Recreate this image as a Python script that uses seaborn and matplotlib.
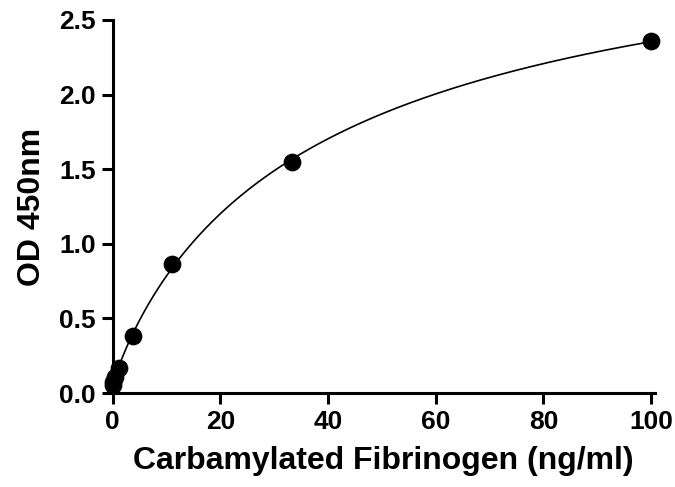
import numpy as np
import pandas as pd
import matplotlib
matplotlib.use("Agg")
import matplotlib.pyplot as plt
import seaborn as sns

# standard curve readings
conc = [100, 33.3, 11.1, 3.7, 1.23, 0.41, 0.137, 0]
od = [2.36, 1.55, 0.865, 0.385, 0.17, 0.105, 0.075, 0.055]

sns.set_style("ticks")
plt.rcParams['font.family'] = ['Liberation Sans', 'DejaVu Sans']
plt.rcParams['font.weight'] = 'bold'
plt.rcParams['text.color'] = 'black'
plt.rcParams['axes.labelcolor'] = 'black'
plt.rcParams['xtick.color'] = 'black'
plt.rcParams['ytick.color'] = 'black'
plt.rcParams['axes.edgecolor'] = 'black'

df = pd.DataFrame({'conc': conc, 'od': od})

# 4PL fit: grid over slope/EC50, linear least squares for top/bottom
x = np.array(conc, dtype=float)
y = np.array(od, dtype=float)
best = None
for b in np.linspace(0.5, 2.0, 151):
    for c in np.linspace(5, 200, 391):
        g = 1.0 / (1.0 + (x / c) ** b)
        A = np.column_stack([g, 1 - g])
        coef, *_ = np.linalg.lstsq(A, y, rcond=None)
        err = np.sum((A @ coef - y) ** 2)
        if best is None or err < best[0]:
            best = (err, b, c, coef)
_, b, c, (a, d) = best
xs = np.linspace(0, 100, 400)
ys = d + (a - d) / (1 + (xs / c) ** b)

fig, ax = plt.subplots(figsize=(6.75, 4.87), dpi=100)
fig.subplots_adjust(left=0.167, right=0.970, bottom=0.193, top=0.959)

sns.lineplot(x=xs, y=ys, ax=ax, color='black', linewidth=1.2)
sns.scatterplot(data=df, x='conc', y='od', ax=ax, color='black', s=140,
                edgecolor='black', clip_on=False, zorder=5)

ax.set_xlim(0, 100.7)
ax.set_ylim(0, 2.5)
ax.set_xticks([0, 20, 40, 60, 80, 100])
ax.set_yticks([0, 0.5, 1.0, 1.5, 2.0, 2.5])
ax.set_yticklabels(['0.0', '0.5', '1.0', '1.5', '2.0', '2.5'])
ax.set_xlabel('Carbamylated Fibrinogen (ng/ml)', fontsize=23, fontweight='bold', labelpad=9)
ax.set_ylabel('OD 450nm', fontsize=23, fontweight='bold', labelpad=9)
ax.tick_params(labelsize=19, width=2.2, length=8, direction='out', pad=4)
for lab in ax.get_xticklabels() + ax.get_yticklabels():
    lab.set_fontweight('bold')
for s in ['left', 'bottom']:
    ax.spines[s].set_linewidth(2.2)
sns.despine(ax=ax)

plt.savefig('out.png', dpi=100)
